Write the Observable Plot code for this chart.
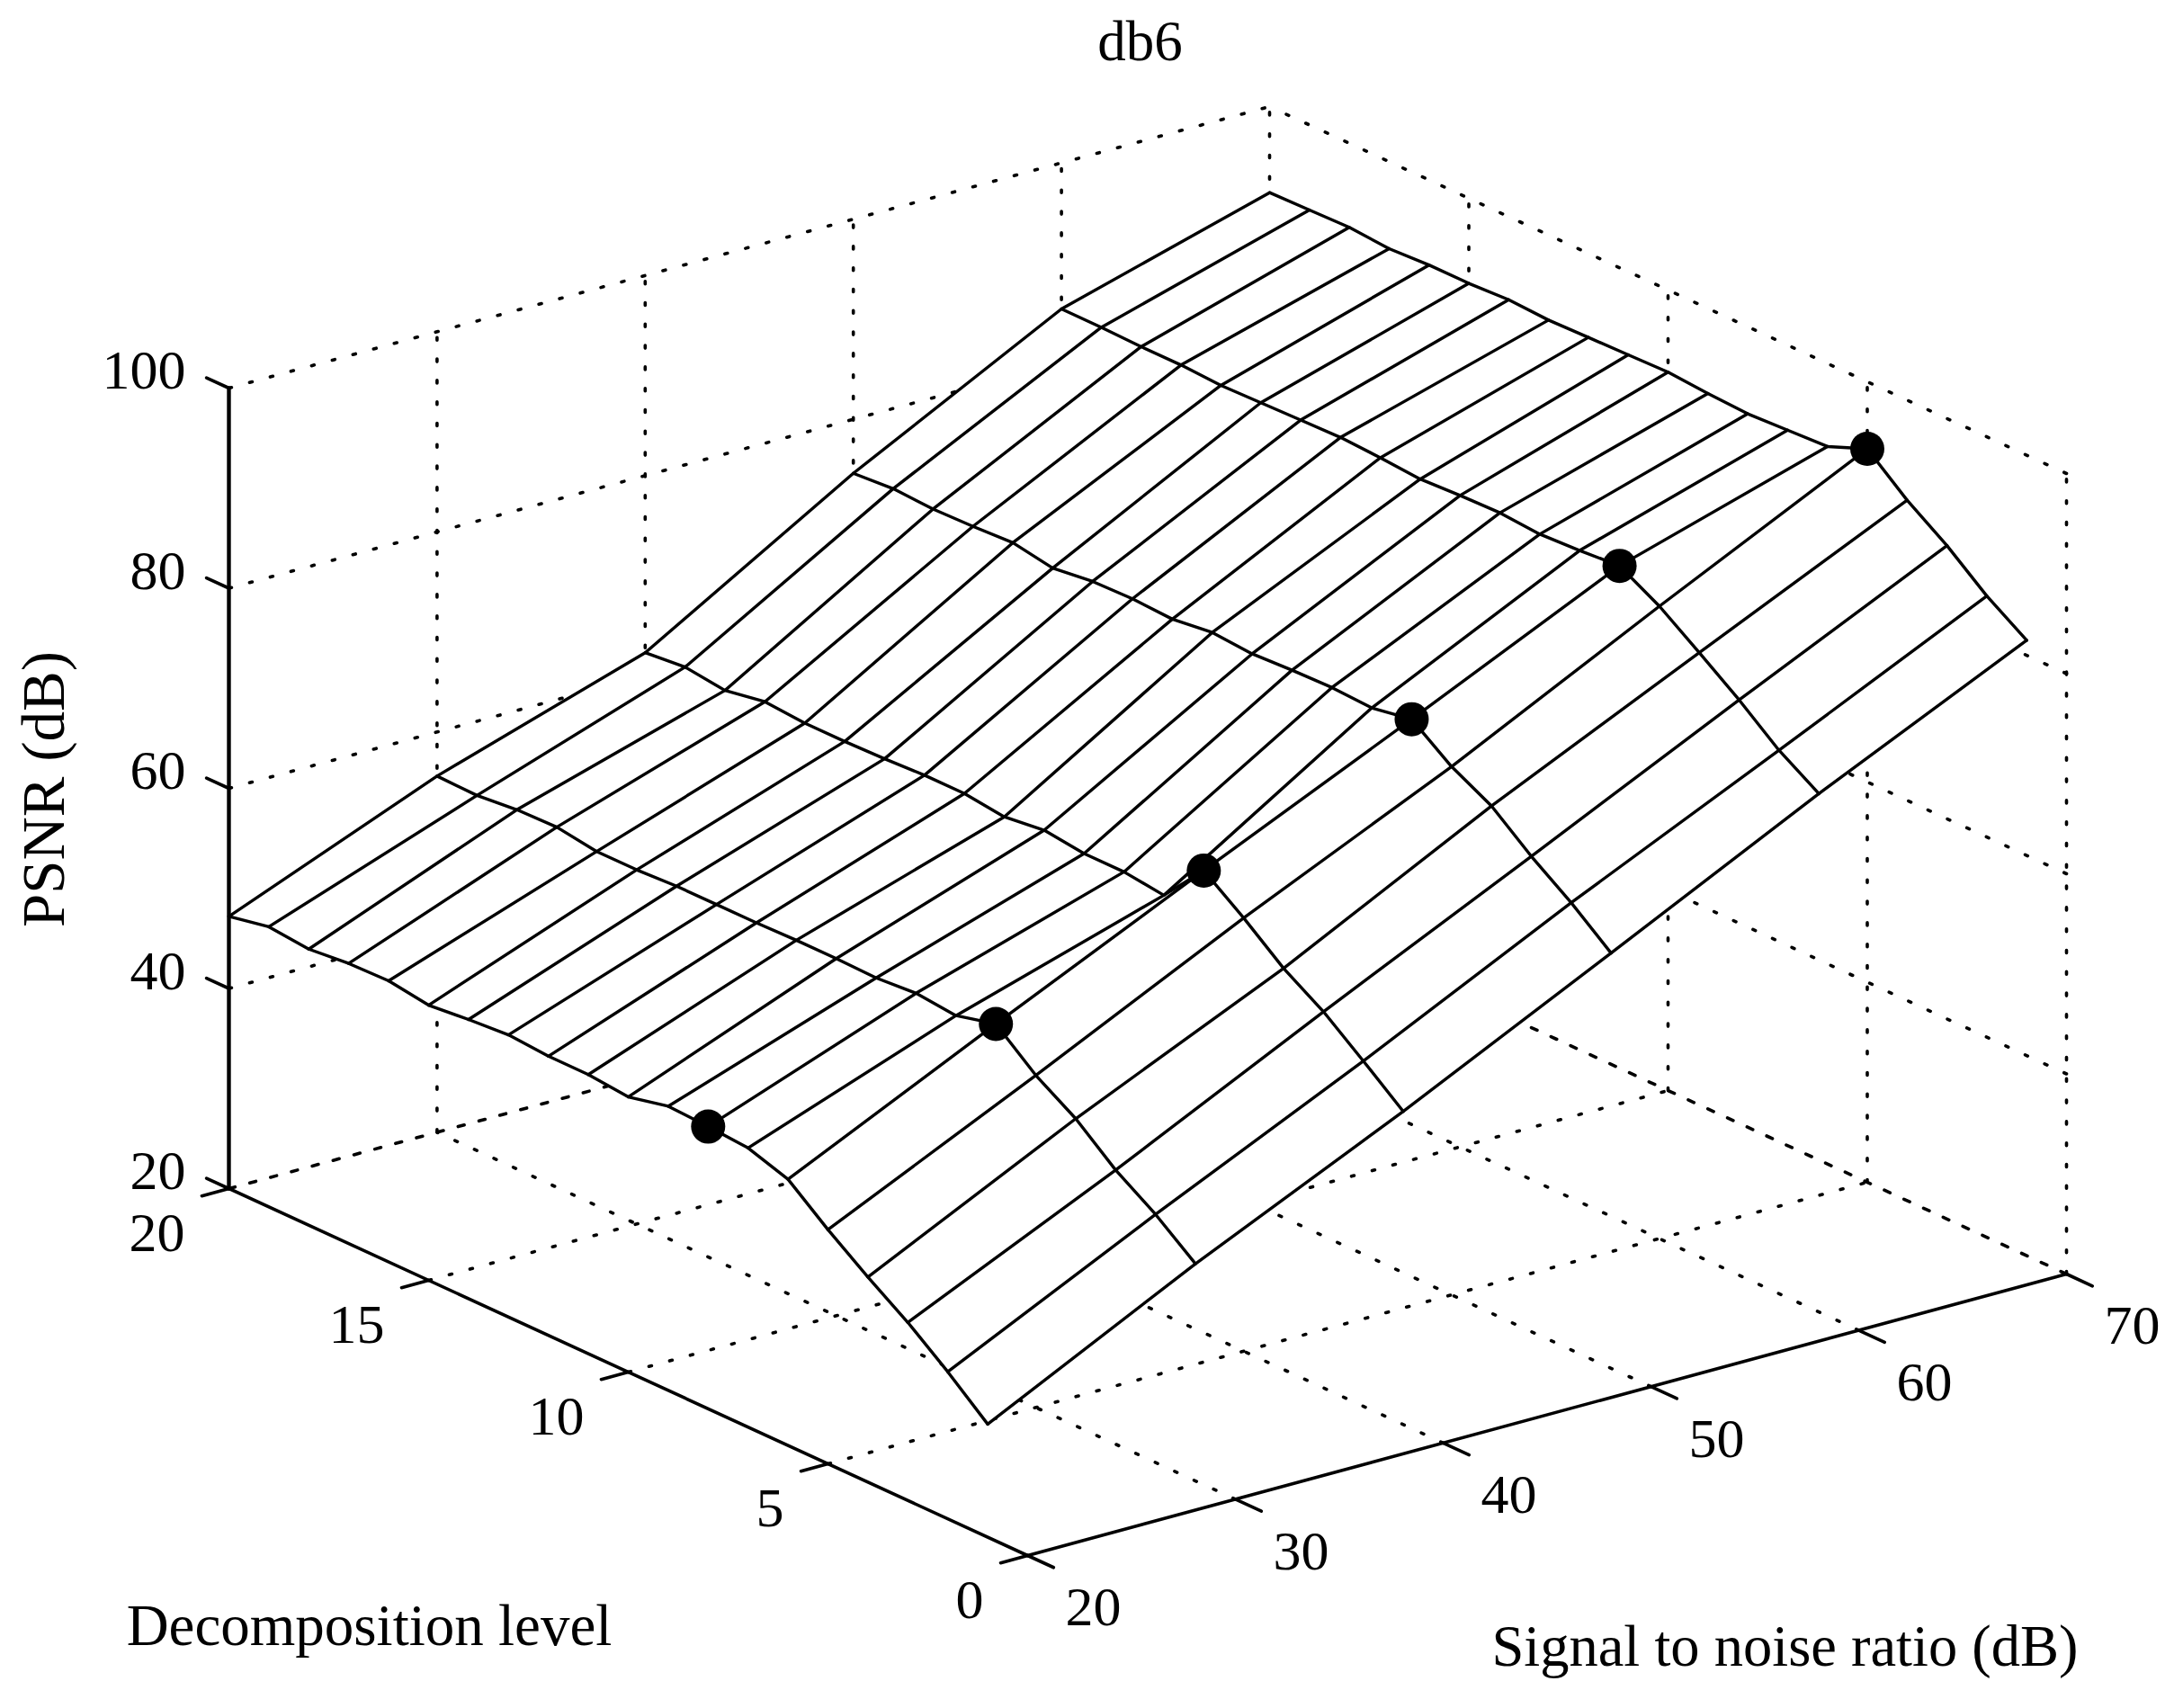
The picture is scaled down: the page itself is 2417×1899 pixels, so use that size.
<!DOCTYPE html>
<html>
<head>
<meta charset="utf-8">
<style>html,body{margin:0;padding:0;background:#fff}svg{display:block}</style>
<script src="https://cdn.jsdelivr.net/npm/d3@7"></script>
<script src="https://cdn.jsdelivr.net/npm/@observablehq/plot@0.6"></script>
</head>
<body>
<div id="chart"></div>
<script>
const snrValues = [20, 30, 40, 50, 60, 70];
const levelValues = [1,2,3,4,5,6,7,8,9,10,11,12,13,14,15,16,17,18,19,20];
const psnrAt20 = [31.3,34.7,37.8,40.5,43.4,46.6,47.9,48.2,48.4,47.5,47.9,47.9,48.2,47.9,47.5,48.1,48.0,47.6,48.0,47.2];
const psnrAt30 = [41.7,44.8,47.4,50.7,53.2,56.5,55.5,55.9,55.6,55.7,55.7,55.6,55.6,55.6,55.4,55.4,56.0,55.9,55.5,55.6];
const psnrAt40 = [51.3,54.5,57.6,60.1,63.3,66.2,61.9,62.4,62.4,62.9,62.4,62.9,62.9,62.7,62.6,62.6,62.9,62.2,62.7,62.3];
const psnrAt50 = [61.5,64.7,67.5,70.7,72.8,75.7,75.0,75.2,75.1,74.9,75.2,74.7,74.9,74.8,74.3,75.0,74.8,74.7,74.9,74.6];
const psnrAt60 = [71.8,74.3,77.5,80.4,83.2,85.4,85.1,84.9,85.2,85.1,84.9,85.2,85.4,85.3,85.2,85.1,85.3,85.3,85.4,85.4];
const psnrAt70 = [81.5,84.1,87.3,90.0,93.3,91.7,91.5,91.3,91.5,91.8,91.7,91.6,91.5,91.7,91.5,91.5,91.3,91.6,91.5,91.4];
const psnrSeries = [psnrAt20, psnrAt30, psnrAt40, psnrAt50, psnrAt60, psnrAt70];
const bestLevel = [8, 6, 6, 6, 6, 5];
const levelTicks = [0, 5, 10, 15, 20];
const psnrTicks = [20, 40, 60, 80, 100];

// view of the 3-D box: where its floor corners fall, and the height of one dB
const floorX = {a: 1142, b: 2297, c: 254, d: 1411};
const floorY = {a: 1729, b: 1416, c: 1321, d: 1008};
const zPx = 11.125;
function bilinear(c, s, l) {
  const u = (s - 20) / 50, v = l / 20;
  return c.a * (1 - u) * (1 - v) + c.b * u * (1 - v) + c.c * (1 - u) * v + c.d * u * v;
}
const px = (d) => bilinear(floorX, d.s, d.l);
const py = (d) => bilinear(floorY, d.s, d.l) - (d.z - 20) * zPx;

const mesh = snrValues.flatMap((s, i) => levelValues.map((l, j) => ({s, l, z: psnrSeries[i][j]})));
const zAt = (s, l) => mesh.find((d) => d.s === s && d.l === l).z;
const outline = [
  ...levelValues.map((l) => ({s: 20, l, z: zAt(20, l)})),
  ...snrValues.slice(1).map((s) => ({s, l: 20, z: zAt(s, 20)})),
  ...levelValues.slice().reverse().slice(1).map((l) => ({s: 70, l, z: zAt(70, l)})),
  ...snrValues.slice(1, -1).reverse().map((s) => ({s, l: 1, z: zAt(s, 1)}))
];
const best = snrValues.map((s, i) => ({s, l: bestLevel[i], z: zAt(s, bestLevel[i])}));

function seg(id, a, b) { return [{id, ...a}, {id, ...b}]; }
let n = 0;
const dotted = [
  ...snrValues.slice(1).flatMap((s) => seg(n++, {s, l: 20, z: 20}, {s, l: 20, z: 100})),
  ...psnrTicks.slice(1).flatMap((z) => seg(n++, {s: 20, l: 20, z}, {s: 70, l: 20, z})),
  ...levelTicks.slice(0, -1).flatMap((l) => seg(n++, {s: 70, l, z: 20}, {s: 70, l, z: 100})),
  ...psnrTicks.slice(1).flatMap((z) => seg(n++, {s: 70, l: 0, z}, {s: 70, l: 20, z})),
  ...snrValues.slice(1, -1).flatMap((s) => seg(n++, {s, l: 0, z: 20}, {s, l: 20, z: 20})),
  ...levelTicks.slice(1, -1).flatMap((l) => seg(n++, {s: 20, l, z: 20}, {s: 70, l, z: 20}))
];
const floorEdges = [
  ...seg(n++, {s: 20, l: 20, z: 20}, {s: 70, l: 20, z: 20}),
  ...seg(n++, {s: 70, l: 0, z: 20}, {s: 70, l: 20, z: 20})
];
const axisLines = [
  ...seg(n++, {s: 20, l: 0, z: 20}, {s: 20, l: 20, z: 20}),
  ...seg(n++, {s: 20, l: 0, z: 20}, {s: 70, l: 0, z: 20})
];
const tickLines = [
  ...psnrTicks.flatMap((z) => seg(n++, {s: 20, l: 20, z}, {s: 20, l: 20.56, z})),
  ...levelTicks.flatMap((l) => seg(n++, {s: 20, l, z: 20}, {s: 18.7, l, z: 20})),
  ...snrValues.flatMap((s) => seg(n++, {s, l: 0, z: 20}, {s, l: -0.65, z: 20}))
];
const zAxis = seg(n++, {s: 20, l: 20, z: 20}, {s: 20, l: 20, z: 100});

const serif = "Liberation Serif";
const chart = Plot.plot({
  width: 2417, height: 1899,
  margin: 0,
  x: {domain: [0, 2417], range: [0, 2417], axis: null},
  y: {domain: [0, 1899], range: [0, 1899], axis: null},
  style: {background: "#fff"},
  marks: [
    Plot.line(dotted, {x: px, y: py, z: "id", stroke: "#000", strokeWidth: 3.6, strokeDasharray: "3 20.8"}),
    Plot.line(floorEdges, {x: px, y: py, z: "id", stroke: "#000", strokeWidth: 3.6, strokeDasharray: "7 17"}),
    Plot.line(outline, {x: px, y: py, fill: "#fff", stroke: "none"}),
    Plot.line(mesh, {x: px, y: py, z: "s", stroke: "#000", strokeWidth: 3.4}),
    Plot.line(mesh, {x: px, y: py, z: "l", sort: {channel: "s"}, stroke: "#000", strokeWidth: 3.4}),
    Plot.dot(best, {x: px, y: py, r: 19, fill: "#000", stroke: "none"}),
    Plot.line(axisLines, {x: px, y: py, z: "id", stroke: "#000", strokeWidth: 3.6}),
    Plot.line(tickLines, {x: px, y: py, z: "id", stroke: "#000", strokeWidth: 3.6}),
    Plot.line(zAxis, {x: px, y: py, z: "id", stroke: "#000", strokeWidth: 4.4}),
    Plot.text(psnrTicks, {x: (z) => px({s: 20, l: 20}), y: (z) => py({s: 20, l: 20, z}), text: (z) => String(z),
      dx: -48, dy: -19, textAnchor: "end", fontFamily: serif, fontSize: 62, fill: "#000"}),
    Plot.text(levelTicks, {x: (l) => px({s: 20, l}), y: (l) => py({s: 20, l, z: 20}), text: (l) => String(l),
      dx: -49, dy: 50, textAnchor: "end", fontFamily: serif, fontSize: 62, fill: "#000"}),
    Plot.text(snrValues, {x: (s) => px({s, l: 0}), y: (s) => py({s, l: 0, z: 20}), text: (s) => String(s),
      dx: 73, dy: 58, fontFamily: serif, fontSize: 62, fill: "#000"}),
    Plot.text(["db6"], {frameAnchor: "top-left", dx: 1267, dy: 46, lineAnchor: "middle", textAnchor: "middle", fontFamily: serif, fontSize: 63, fill: "#000"}),
    Plot.text(["Decomposition level"], {frameAnchor: "top-left", dx: 410, dy: 1808, lineAnchor: "middle", textAnchor: "middle", fontFamily: serif, fontSize: 65, fill: "#000"}),
    Plot.text(["Signal to noise ratio (dB)"], {frameAnchor: "top-left", dx: 1984, dy: 1831, lineAnchor: "middle", textAnchor: "middle", fontFamily: serif, fontSize: 64.5, fill: "#000"}),
    Plot.text(["PSNR (dB)"], {frameAnchor: "top-left", dx: 49, dy: 877, rotate: -90, lineAnchor: "middle", textAnchor: "middle", fontFamily: serif, fontSize: 67, fill: "#000"})
  ]
});
document.getElementById("chart").append(chart);
</script>
</body>
</html>
